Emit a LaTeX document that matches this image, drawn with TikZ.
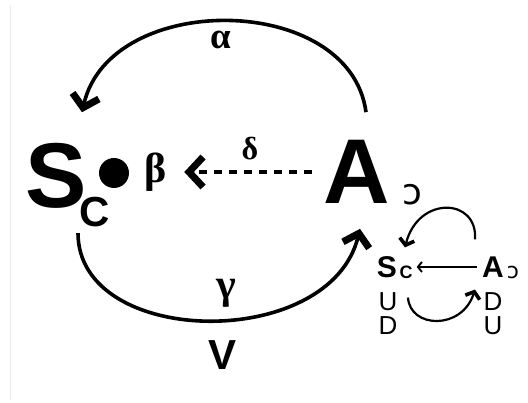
\documentclass[tikz,border=0pt]{standalone}
\usepackage{fontspec}
\setmainfont{Liberation Sans}
\newfontfamily\greekfont{Liberation Serif}
\newfontfamily\ipafont{DejaVu Sans}
\usetikzlibrary{arrows.meta,calc}
\tikzset{
 bigletter/.style={inner sep=0,font=\fontsize{92}{92}\selectfont\bfseries},
 subletter/.style={inner sep=0,font=\fontsize{42}{42}\selectfont\bfseries},
 smallletter/.style={inner sep=0,font=\fontsize{30}{30}\selectfont\bfseries},
 tinyletter/.style={inner sep=0,font=\fontsize{18}{18}\selectfont\bfseries},
 stateletter/.style={inner sep=0,font=\fontsize{26}{26}\selectfont},
 greek/.style={inner sep=0,font=\greekfont\fontsize{#1}{#1}\selectfont\bfseries},
 openo/.style={inner sep=0,font=\ipafont\fontsize{#1}{#1}\selectfont},
 bigloop/.style={line width=3.6pt,-{Straight Barb[length=12pt,width=27pt,line width=7pt]}},
 smallloop/.style={line width=2.2pt,-{Straight Barb[length=6pt,width=15pt,line width=3.6pt]}},
 smallstreet/.style={line width=1.5pt,-{Straight Barb[length=4pt,width=10pt,line width=1.9pt]}},
 dashline/.style={line width=3.6pt,dash pattern=on 8pt off 7pt,-{Straight Barb[length=14pt,width=30pt,line width=7pt]}}
}
\begin{document}
\begin{tikzpicture}[x=1pt,y=1pt]
\path[use as bounding box] (0,0) rectangle (528,403);
\draw[gray!15,line width=1pt] (10,398) -- (10,3);
\node[bigletter] (bigS) at (56,227) {S};
\node[subletter] (bigC) at (95,191) {C};
\node[circle,fill,minimum size=30pt,inner sep=0] (dot) at (114,230) {};
\node[greek=42] (beta) at (156,231) {β};
\node[bigletter] (bigA) at (357,231) {A};
\node[openo=36] (bigO) at (412,208) {ɔ};
\node[greek=37] (alpha) at (221,363) {α};
\node[greek=32] (delta) at (250,254) {δ};
\node[greek=42] (gamma) at (226,110) {γ};
\node[subletter] (vee) at (223,48) {V};
\draw[bigloop] ([shift={(9,28)}]bigA.north) .. controls +(-16,120) and +(28,122) .. ([shift={(26,31)}]bigS.north);
\draw[bigloop] ([shift={(-17,-6)}]bigC.south) .. controls +(0,-115) and +(-30,-123) .. ([shift={(3,-25)}]bigA.south);
\draw[dashline,shorten <=12pt,shorten >=17pt] (bigA.west) -- (beta.east |- bigA.west);
\node[smallletter] (smallS) at (387,136) {S};
\node[tinyletter] (smallC) at (406,131) {C};
\node[smallletter] (smallA) at (493,136) {A};
\node[openo=22] (smallO) at (513,130) {ɔ};
\node[stateletter] (upS) at (388,101) {U};
\node[stateletter] (downS) at (388,77) {D};
\node[stateletter] (downA) at (493,101) {D};
\node[stateletter] (upA) at (493,77) {U};
\draw[smallstreet,shorten <=5pt,shorten >=4pt] (smallA.west) -- (smallC.east |- smallA.west);
\draw[smallloop] ([shift={(-18,17)}]smallA.north) .. controls +(3,42) and +(13,52) .. ([shift={(-1,18)}]smallC.north);
\draw[smallloop] ([shift={(2,-19)}]smallC.south) .. controls +(2,-31) and +(-13,-41) .. ([shift={(-18,-12)}]smallA.south);
\end{tikzpicture}
\end{document}
